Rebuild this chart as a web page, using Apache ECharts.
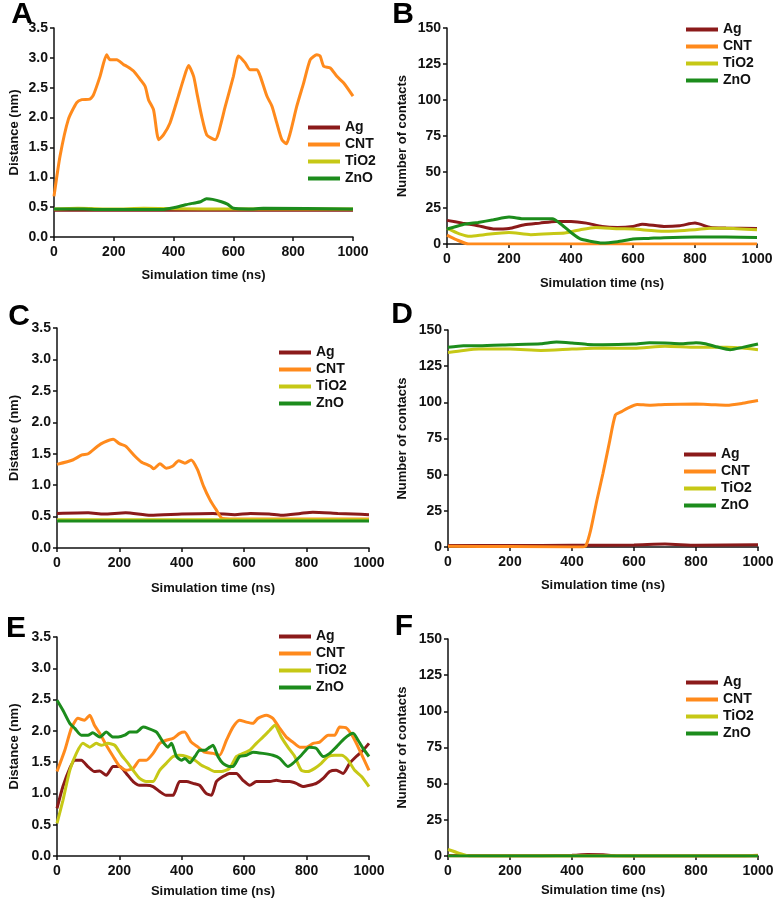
<!DOCTYPE html>
<html>
<head>
<meta charset="utf-8">
<script src="https://cdn.jsdelivr.net/npm/echarts@6/dist/echarts.min.js"></script>
<style>
  html, body { margin: 0; padding: 0; background: #fff; }
  #chart { width: 777px; height: 909px; }
</style>
</head>
<body>
<div id="chart"></div>
<script>
// series names and colours
const names = ["Ag", "CNT", "TiO2", "ZnO"];
const colors = ["#8b1a1a", "#ff8a1c", "#c6c816", "#1c8c1c"];

// [time (ns), value]
// Panel A - distance (nm)
const aAg = [[0, 0.45], [200, 0.45], [400, 0.45], [600, 0.45], [800, 0.45], [1000, 0.45]];
const aCnt = [[0, 0.68], [20, 1.35], [48, 1.97], [76, 2.25], [93, 2.30], [120, 2.31], [132, 2.38], [154, 2.69], [176, 3.05], [187, 2.97], [210, 2.97], [232, 2.89], [243, 2.86], [266, 2.78], [288, 2.64], [305, 2.52], [316, 2.30], [333, 2.13], [350, 1.63], [366, 1.71], [388, 1.91], [416, 2.36], [433, 2.64], [450, 2.87], [467, 2.69], [478, 2.41], [494, 2.02], [511, 1.71], [539, 1.63], [550, 1.74], [573, 2.19], [600, 2.69], [617, 3.03], [639, 2.92], [656, 2.80], [679, 2.80], [690, 2.69], [712, 2.36], [729, 2.19], [745, 1.91], [762, 1.63], [777, 1.56], [790, 1.74], [812, 2.19], [835, 2.58], [857, 2.97], [879, 3.05], [890, 3.03], [902, 2.86], [924, 2.83], [946, 2.69], [969, 2.58], [1000, 2.36]];
const aTio2 = [[0, 0.47], [80, 0.48], [200, 0.47], [300, 0.48], [500, 0.47], [700, 0.47], [1000, 0.47]];
const aZno = [[0, 0.47], [100, 0.47], [150, 0.46], [360, 0.46], [400, 0.49], [440, 0.54], [470, 0.57], [490, 0.59], [510, 0.64], [530, 0.63], [560, 0.59], [580, 0.55], [600, 0.48], [650, 0.47], [700, 0.48], [1000, 0.47]];

// Panel B - number of contacts
const bAg = [[0, 16.4], [50, 14.5], [100, 12.7], [150, 10.4], [200, 10.8], [250, 13.4], [300, 14.5], [350, 15.7], [400, 15.7], [450, 14.5], [500, 12.2], [550, 11.5], [600, 12.2], [630, 13.8], [700, 12.2], [750, 12.7], [800, 14.5], [850, 11.5], [900, 11.1], [1000, 10.8]];
const bCnt = [[0, 6.2], [30, 3.0], [70, 0], [200, 0], [400, 0], [600, 0], [800, 0], [1000, 0]];
const bTio2 = [[0, 11.0], [40, 7.0], [75, 5.3], [120, 6.5], [200, 8.0], [270, 6.5], [330, 7.2], [380, 7.6], [430, 9.9], [480, 11.5], [550, 10.6], [600, 10.4], [700, 8.8], [800, 9.9], [850, 11.0], [900, 11.0], [1000, 9.9]];
const bZno = [[0, 10.4], [50, 13.4], [100, 15.0], [150, 16.8], [200, 18.7], [250, 17.5], [300, 17.5], [340, 17.5], [370, 13.4], [400, 8.0], [430, 3.5], [460, 2.0], [500, 0.7], [550, 1.6], [600, 3.5], [650, 3.9], [700, 4.4], [800, 4.8], [900, 4.8], [1000, 4.6]];

// Panel C - distance (nm)
const cAg = [[0, 0.55], [100, 0.56], [150, 0.54], [220, 0.56], [300, 0.52], [400, 0.54], [500, 0.55], [570, 0.53], [620, 0.55], [680, 0.54], [720, 0.52], [780, 0.55], [820, 0.57], [900, 0.55], [950, 0.54], [1000, 0.53]];
const cCnt = [[0, 1.33], [50, 1.40], [80, 1.48], [100, 1.50], [130, 1.62], [150, 1.68], [180, 1.73], [200, 1.66], [220, 1.62], [250, 1.46], [270, 1.37], [300, 1.30], [310, 1.26], [330, 1.34], [350, 1.27], [370, 1.30], [390, 1.39], [410, 1.35], [430, 1.40], [450, 1.25], [470, 0.98], [490, 0.77], [510, 0.61], [530, 0.47], [600, 0.46], [800, 0.46], [1000, 0.46]];
const cTio2 = [[0, 0.45], [500, 0.45], [1000, 0.45]];
const cZno = [[0, 0.43], [500, 0.43], [1000, 0.43]];

// Panel D - number of contacts
const dAg = [[0, 1.0], [200, 1.0], [400, 1.2], [600, 1.4], [700, 2.0], [800, 1.2], [1000, 1.5]];
const dCnt = [[0, 0.5], [200, 0.3], [400, 0], [435, 0], [445, 1.0], [460, 11.5], [480, 32], [500, 51], [520, 71.6], [540, 91.3], [560, 93.6], [580, 96], [610, 98.5], [650, 98], [700, 98.5], [800, 98.8], [850, 98.4], [900, 98], [950, 99.3], [1000, 101.2]];
const dTio2 = [[0, 134.5], [50, 135.9], [100, 136.8], [200, 136.8], [300, 135.9], [400, 136.8], [500, 137.5], [600, 137.3], [700, 138.7], [800, 138.0], [900, 138.0], [950, 137.5], [1000, 136.4]];
const dZno = [[0, 138.0], [50, 139.1], [100, 139.1], [200, 139.8], [300, 140.5], [350, 141.7], [400, 141.0], [450, 140.0], [500, 139.8], [600, 140.3], [650, 141.2], [700, 141.0], [750, 140.5], [800, 141.2], [830, 140.5], [870, 138.2], [910, 136.4], [950, 138.0], [1000, 140.3]];

// Panel E - distance (nm)
const eAg = [[0, 0.76], [19, 1.11], [41, 1.40], [57, 1.53], [78, 1.53], [99, 1.43], [120, 1.35], [137, 1.36], [158, 1.29], [180, 1.43], [201, 1.43], [222, 1.32], [244, 1.19], [265, 1.13], [286, 1.13], [308, 1.11], [329, 1.03], [350, 0.97], [372, 0.97], [393, 1.19], [415, 1.19], [436, 1.16], [457, 1.13], [478, 1.00], [495, 0.97], [511, 1.19], [532, 1.27], [553, 1.32], [575, 1.32], [596, 1.21], [618, 1.13], [639, 1.19], [660, 1.19], [682, 1.19], [703, 1.21], [724, 1.19], [746, 1.19], [767, 1.16], [788, 1.11], [810, 1.13], [831, 1.16], [853, 1.24], [874, 1.35], [895, 1.37], [917, 1.32], [938, 1.48], [959, 1.59], [981, 1.69], [1000, 1.80]];
const eCnt = [[0, 1.35], [25, 1.69], [46, 2.04], [67, 2.20], [88, 2.17], [105, 2.25], [120, 2.09], [137, 1.96], [158, 1.77], [180, 1.59], [201, 1.43], [222, 1.37], [244, 1.40], [265, 1.53], [286, 1.53], [308, 1.64], [329, 1.80], [350, 1.85], [372, 1.88], [393, 1.96], [409, 1.98], [430, 1.82], [452, 1.74], [473, 1.66], [500, 1.64], [521, 1.61], [543, 1.85], [564, 2.06], [585, 2.17], [607, 2.14], [628, 2.12], [644, 2.20], [671, 2.25], [692, 2.20], [714, 2.04], [735, 1.90], [756, 1.82], [778, 1.74], [799, 1.74], [821, 1.80], [842, 1.82], [869, 1.93], [890, 1.93], [906, 2.06], [929, 2.04], [949, 1.90], [970, 1.69], [1000, 1.37]];
const eTio2 = [[0, 0.52], [19, 0.89], [41, 1.37], [62, 1.64], [83, 1.80], [105, 1.74], [126, 1.80], [142, 1.77], [163, 1.80], [185, 1.77], [207, 1.61], [228, 1.48], [244, 1.37], [265, 1.24], [286, 1.19], [308, 1.19], [329, 1.37], [350, 1.48], [372, 1.59], [393, 1.61], [415, 1.59], [442, 1.53], [463, 1.45], [484, 1.40], [505, 1.35], [527, 1.35], [553, 1.40], [575, 1.59], [596, 1.64], [618, 1.69], [639, 1.80], [660, 1.90], [682, 2.01], [698, 2.09], [719, 1.90], [740, 1.74], [762, 1.59], [783, 1.37], [804, 1.35], [826, 1.40], [847, 1.48], [869, 1.59], [890, 1.61], [912, 1.61], [933, 1.53], [954, 1.37], [976, 1.27], [1000, 1.11]];
const eZno = [[0, 2.49], [19, 2.33], [41, 2.12], [57, 2.04], [78, 1.93], [99, 1.93], [115, 1.97], [137, 1.90], [158, 1.98], [180, 1.90], [196, 1.90], [217, 1.93], [233, 1.98], [254, 1.98], [276, 2.06], [292, 2.04], [319, 1.98], [340, 1.82], [356, 1.74], [367, 1.80], [383, 1.59], [399, 1.53], [410, 1.56], [426, 1.49], [442, 1.59], [457, 1.69], [474, 1.69], [490, 1.74], [500, 1.77], [516, 1.59], [532, 1.48], [553, 1.43], [564, 1.43], [585, 1.59], [607, 1.61], [628, 1.66], [660, 1.64], [692, 1.61], [714, 1.56], [740, 1.43], [756, 1.48], [783, 1.61], [809, 1.74], [831, 1.72], [853, 1.59], [874, 1.64], [895, 1.74], [922, 1.88], [949, 1.96], [965, 1.85], [981, 1.72], [1000, 1.59]];

// Panel F - number of contacts
const fAg = [[0, 0.3], [300, 0.2], [400, 0.5], [450, 1.0], [500, 0.8], [540, 0.2], [700, 0], [1000, 0]];
const fCnt = [[0, 0], [500, 0], [950, 0], [1000, 0.5]];
const fTio2 = [[0, 4.5], [35, 2.0], [70, 0], [300, 0], [600, 0], [1000, 0]];
const fZno = [[0, 0], [500, 0], [1000, 0]];

// panel frames (grid box in px), axis kind, letter and legend placement
const panels = [
  { letter: "A", lx: 22, ly: 15, grid: [54, 28, 299, 209], kind: "dist", xGap: 32, yGap: 33, leg: [308, 119], data: [aAg, aCnt, aTio2, aZno] },
  { letter: "B", lx: 403, ly: 15, grid: [447, 28, 310, 216], kind: "cont", xGap: 33, yGap: 38, leg: [686, 21], data: [bAg, bCnt, bTio2, bZno] },
  { letter: "C", lx: 19, ly: 317, grid: [57, 328, 312, 220], kind: "dist", xGap: 34, yGap: 36, leg: [279, 344], data: [cAg, cCnt, cTio2, cZno] },
  { letter: "D", lx: 402, ly: 315, grid: [448, 330, 310, 217], kind: "cont", xGap: 32, yGap: 39, leg: [684, 446], data: [dAg, dCnt, dTio2, dZno] },
  { letter: "E", lx: 16, ly: 629, grid: [57, 637, 312, 219], kind: "dist", xGap: 29, yGap: 36, leg: [279, 628], data: [eAg, eCnt, eTio2, eZno] },
  { letter: "F", lx: 404, ly: 627, grid: [448, 639, 310, 217], kind: "cont", xGap: 28, yGap: 39, leg: [686, 674], data: [fAg, fCnt, fTio2, fZno] }
];

const fam = "Liberation Sans, Arial, sans-serif";
const axisFont = { color: "#111", fontWeight: "bold", fontSize: 14, fontFamily: fam };
const nameFont = { color: "#111", fontWeight: "bold", fontSize: 13, fontFamily: fam };
const axisLine = { show: true, lineStyle: { color: "#111", width: 1.5 } };
const axisTick = { show: true, inside: false, length: 4, lineStyle: { color: "#111", width: 1.5 } };

const grid = [], xAxis = [], yAxis = [], legend = [], series = [], graphic = [];

panels.forEach((p, i) => {
  grid.push({ left: p.grid[0], top: p.grid[1], width: p.grid[2], height: p.grid[3], containLabel: false });
  xAxis.push({
    gridIndex: i, type: "value", min: 0, max: 1000, interval: 200,
    name: "Simulation time (ns)", nameLocation: "middle", nameGap: p.xGap, nameTextStyle: nameFont,
    axisLine, axisTick, splitLine: { show: false },
    axisLabel: Object.assign({ margin: 8, formatter: (v) => String(v) }, axisFont)
  });
  const isDist = p.kind === "dist";
  yAxis.push({
    gridIndex: i, type: "value", min: 0, max: isDist ? 3.5 : 150, interval: isDist ? 0.5 : 25,
    name: isDist ? "Distance (nm)" : "Number of contacts", nameLocation: "middle", nameGap: p.yGap, nameTextStyle: nameFont,
    axisLine, axisTick, splitLine: { show: false },
    axisLabel: Object.assign({ margin: 6, formatter: (v) => (isDist ? v.toFixed(1) : String(v)) }, axisFont)
  });
  legend.push({
    data: names, orient: "vertical", left: p.leg[0], top: p.leg[1], padding: 0,
    icon: "rect", itemWidth: 32, itemHeight: 4, itemGap: 0, selectedMode: false,
    textStyle: { color: "#111", fontWeight: "bold", fontSize: 14, lineHeight: 17, fontFamily: fam }
  });
  names.forEach((n, k) => {
    series.push({
      name: n, type: "line", xAxisIndex: i, yAxisIndex: i,
      data: p.data[k], symbol: "none", smooth: 0.2,
      color: colors[k], lineStyle: { width: 3, color: colors[k] }
    });
  });
  graphic.push({
    type: "text", x: p.lx, y: p.ly,
    style: { text: p.letter, fill: "#000", font: "bold 30px Liberation Sans, Arial, sans-serif", align: "center", verticalAlign: "middle" }
  });
});

const chart = echarts.init(document.getElementById("chart"), null, { renderer: "canvas" });
chart.setOption({ animation: false, backgroundColor: "#fff", grid, xAxis, yAxis, legend, series, graphic });
</script>
</body>
</html>
